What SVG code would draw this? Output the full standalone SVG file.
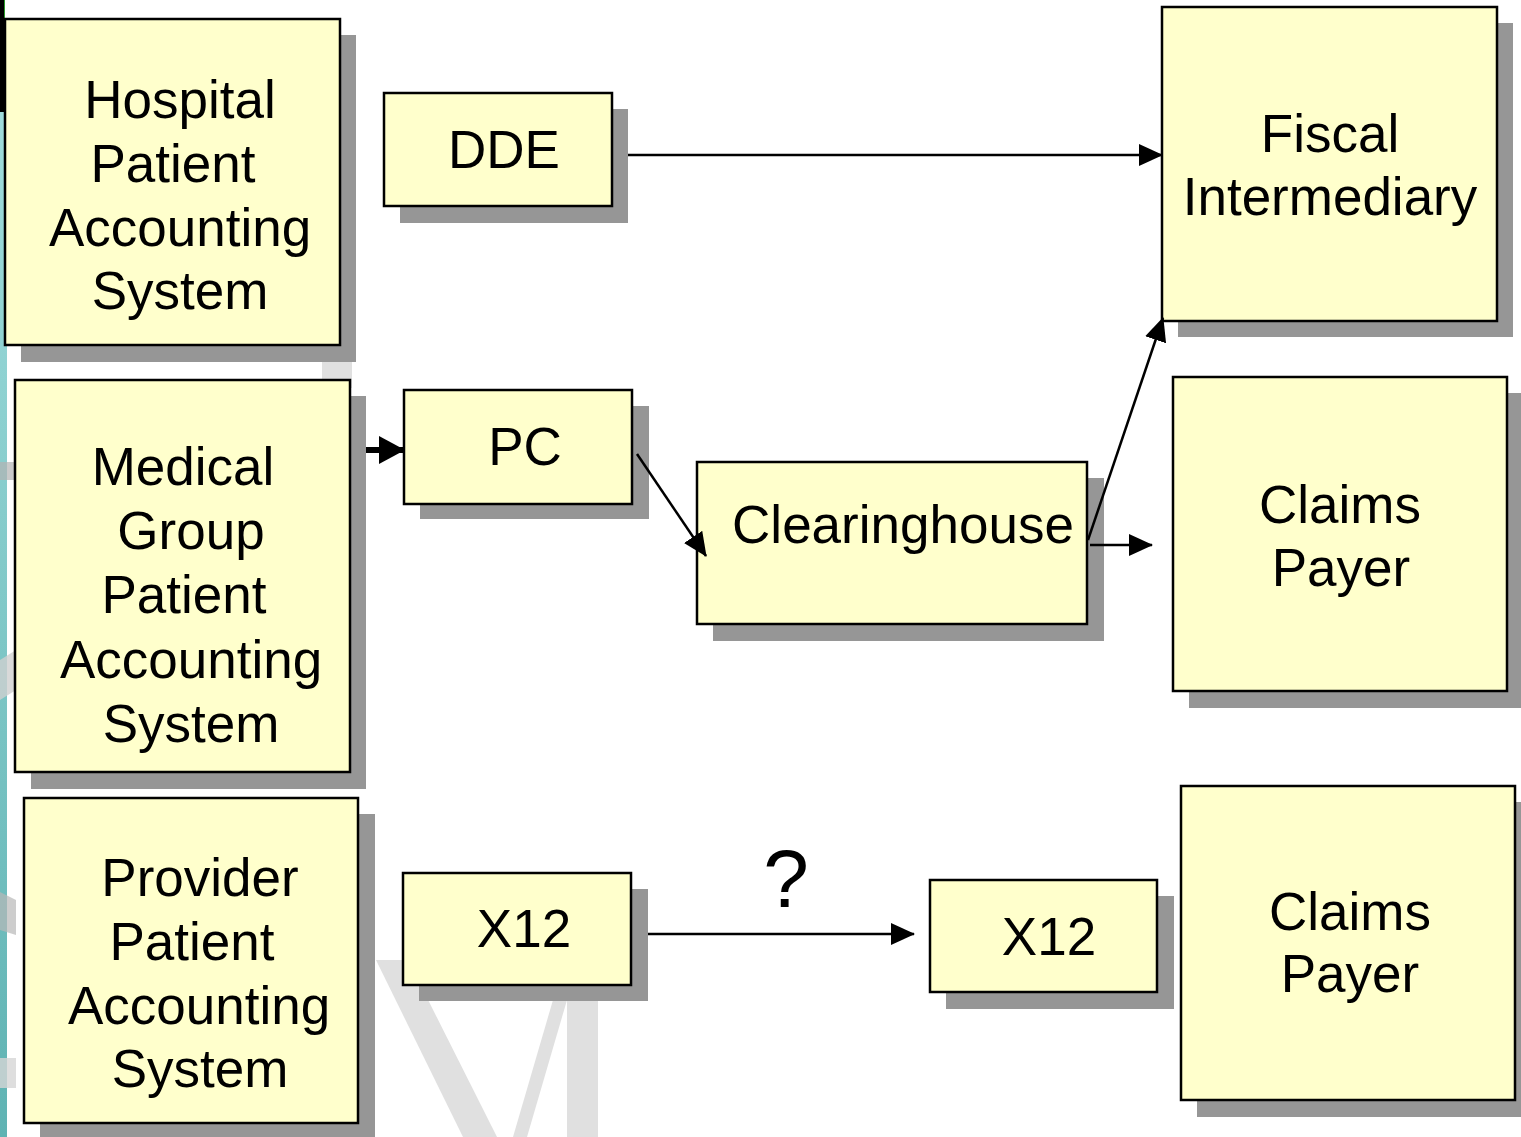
<svg xmlns="http://www.w3.org/2000/svg" width="1521" height="1137" viewBox="0 0 1521 1137">
<defs>
<style>
.box{fill:#FFFFCC;stroke:#000;stroke-width:2.5}
.sh{fill:#969696}
.t{font-family:"Liberation Sans",Arial,sans-serif;font-size:53px;fill:#000;text-anchor:middle}
.c{fill:none;stroke:#000;stroke-width:2.5}
.ck{fill:none;stroke:#000;stroke-width:6}
.wm{fill:#e0e0e0}
</style>
<linearGradient id="teal" x1="0" y1="0" x2="0" y2="1">
<stop offset="0" stop-color="#9fdcdc"/>
<stop offset="1" stop-color="#5fb3b3"/>
</linearGradient>
<marker id="ah" markerUnits="userSpaceOnUse" markerWidth="24" markerHeight="22" viewBox="0 0 24 22" refX="23" refY="11" orient="auto">
<path d="M0,0 L24,11 L0,22 z" fill="#000"/>
</marker>
<marker id="ahk" markerUnits="userSpaceOnUse" markerWidth="26" markerHeight="28" viewBox="0 0 26 28" refX="25" refY="14" orient="auto">
<path d="M0,0 L26,14 L0,28 z" fill="#000"/>
</marker>
</defs>
<rect width="1521" height="1137" fill="#fff"/>
<g id="background">
<rect x="0" y="110" width="7" height="1027" fill="url(#teal)"/>
<rect x="0" y="0" width="5" height="112" fill="#000"/>
<rect x="4" y="0" width="1" height="20" fill="#2a9a2a"/>
<rect x="0" y="462" width="16" height="18" fill="#b4b4b4" opacity="0.7"/>
<polygon points="0,660 16,650 16,690 0,700" fill="#cfcfcf" opacity="0.8"/>
<polygon points="0,892 16,900 16,935 0,930" fill="#b8b8b8" opacity="0.7"/>
<rect x="0" y="1058" width="16" height="30" fill="#d6d6d6" opacity="0.8"/>
<rect class="wm" x="322" y="358" width="30" height="30"/>
<polygon class="wm" points="376,960 408,960 497,1137 463,1137"/>
<polygon class="wm" points="553,1000 567,1000 527,1137 513,1137"/>
<rect class="wm" x="567" y="995" width="31" height="142"/>
</g>
<g id="n-hospital">
<rect class="sh" x="21" y="35" width="335" height="327"/>
<rect class="box" x="5" y="19" width="335" height="326"/>
<text class="t"><tspan x="180" y="118">Hospital</tspan><tspan x="173" y="182">Patient</tspan><tspan x="180" y="246">Accounting</tspan><tspan x="180" y="309">System</tspan></text>
</g>
<g id="n-medical">
<rect class="sh" x="31" y="396" width="335" height="393"/>
<rect class="box" x="15" y="380" width="335" height="392"/>
<text class="t"><tspan x="183" y="485">Medical</tspan><tspan x="191" y="549">Group</tspan><tspan x="184" y="613">Patient</tspan><tspan x="191" y="678">Accounting</tspan><tspan x="191" y="742">System</tspan></text>
</g>
<g id="n-provider">
<rect class="sh" x="40" y="814" width="335" height="326"/>
<rect class="box" x="24" y="798" width="334" height="325"/>
<text class="t"><tspan x="200" y="896">Provider</tspan><tspan x="192" y="960">Patient</tspan><tspan x="199" y="1024">Accounting</tspan><tspan x="200" y="1087">System</tspan></text>
</g>
<g id="n-dde">
<rect class="sh" x="400" y="109" width="228" height="114"/>
<rect class="box" x="384" y="93" width="228" height="113"/>
<text class="t" x="504" y="168">DDE</text>
</g>
<g id="n-pc">
<rect class="sh" x="420" y="406" width="229" height="113"/>
<rect class="box" x="404" y="390" width="228" height="114"/>
<text class="t" x="525" y="465">PC</text>
</g>
<g id="n-clearinghouse">
<rect class="sh" x="713" y="478" width="391" height="163"/>
<rect class="box" x="697" y="462" width="390" height="162"/>
<text class="t" x="903" y="543">Clearinghouse</text>
</g>
<g id="n-x12a">
<rect class="sh" x="419" y="889" width="229" height="112"/>
<rect class="box" x="403" y="873" width="228" height="112"/>
<text class="t" x="524" y="947">X12</text>
</g>
<g id="n-x12b">
<rect class="sh" x="946" y="896" width="228" height="113"/>
<rect class="box" x="930" y="880" width="227" height="112"/>
<text class="t" x="1049" y="955">X12</text>
</g>
<g id="n-fiscal">
<rect class="sh" x="1178" y="23" width="335" height="314"/>
<rect class="box" x="1162" y="7" width="335" height="314"/>
<text class="t"><tspan x="1330" y="152">Fiscal</tspan><tspan x="1330" y="215">Intermediary</tspan></text>
</g>
<g id="n-claims1">
<rect class="sh" x="1189" y="393" width="334" height="315"/>
<rect class="box" x="1173" y="377" width="334" height="314"/>
<text class="t"><tspan x="1340" y="523">Claims</tspan><tspan x="1341" y="586">Payer</tspan></text>
</g>
<g id="n-claims2">
<rect class="sh" x="1197" y="802" width="334" height="315"/>
<rect class="box" x="1181" y="786" width="334" height="314"/>
<text class="t"><tspan x="1350" y="930">Claims</tspan><tspan x="1350" y="992">Payer</tspan></text>
</g>
<g id="connectors">
<path class="c" d="M628,155 L1162,155" marker-end="url(#ah)"/>
<path class="ck" d="M366,450 L404,450" marker-end="url(#ahk)"/>
<path class="c" d="M637,454 L706,556" marker-end="url(#ah)"/>
<path class="c" d="M1088,540 L1163,318" marker-end="url(#ah)"/>
<path class="c" d="M1090,545 L1152,545" marker-end="url(#ah)"/>
<path class="c" d="M648,934 L914,934" marker-end="url(#ah)"/>
<text x="786" y="907" style="font-family:'Liberation Sans',Arial,sans-serif;font-size:82px;text-anchor:middle">?</text>
</g>
</svg>
